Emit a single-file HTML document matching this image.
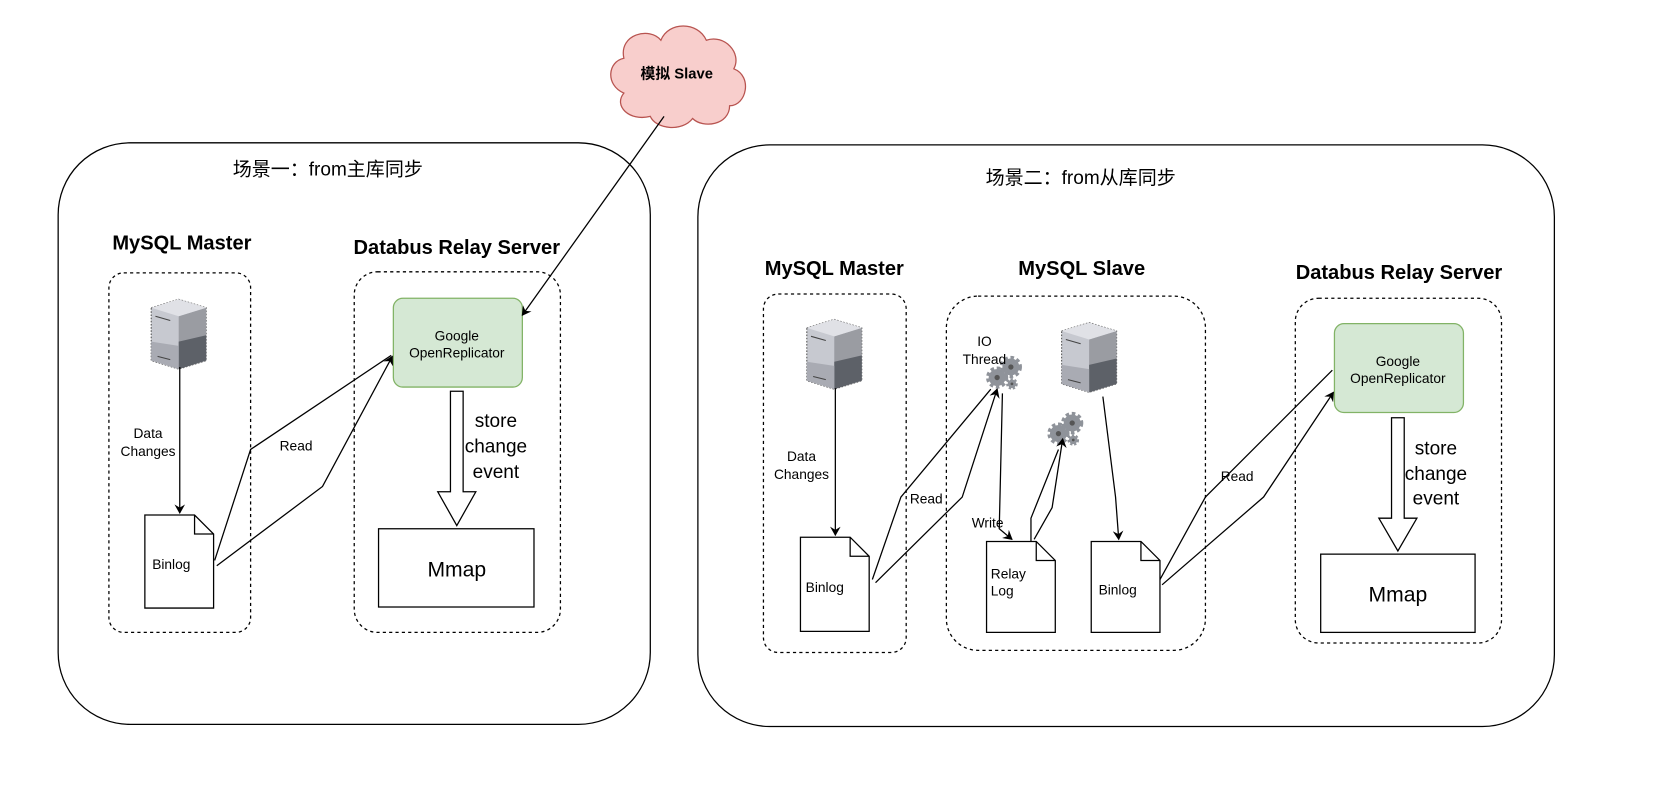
<!DOCTYPE html>
<html><head><meta charset="utf-8"><style>
html,body{margin:0;padding:0;background:#fff;width:1658px;height:790px;overflow:hidden}
text{font-family:"Liberation Sans","Noto Sans CJK SC",sans-serif;fill:#000}
</style></head><body>
<svg width="1658" height="790" viewBox="0 0 1568 747" xmlns="http://www.w3.org/2000/svg">
<defs>
<marker id="ar" markerWidth="10" markerHeight="10" refX="8" refY="5" orient="auto" markerUnits="userSpaceOnUse">
<path d="M0,0 L9,5 L0,10 L3,5 Z" fill="#000"/></marker>
<g id="srv">
<polygon points="0,8 26,0 52,8 52,58 26,66 0,58" fill="#c7c9d0" stroke="#555" stroke-dasharray="1.5,1.5"/>
<polygon points="26,16 52,8 52,58 26,66" fill="#9a9ca2"/>
<polygon points="26,40 52,34 52,58 26,66" fill="#5d6168"/>
<polygon points="0,8 26,0 52,8 26,16" fill="#e0e1e6"/>
<polygon points="0,40 26,44 26,66 0,58" fill="#a9abb3"/>
<line x1="4" y1="16" x2="18" y2="20" stroke="#444"/>
<line x1="6" y1="54" x2="18" y2="57" stroke="#444"/>
</g>
<g id="gear">
<circle cx="0" cy="0" r="8" fill="#8f939a" stroke="#8f939a" stroke-width="5" stroke-dasharray="3,2.3"/>
<circle cx="0" cy="0" r="2.5" fill="#555"/>
<g transform="translate(13,-10)"><circle r="8" fill="#8f939a" stroke="#8f939a" stroke-width="5" stroke-dasharray="3,2.3"/><circle r="2.5" fill="#555"/></g>
<g transform="translate(14,6)"><circle r="4" fill="#8f939a" stroke="#8f939a" stroke-width="3" stroke-dasharray="2,1.5"/><circle r="1.3" fill="#555"/></g>
</g>
</defs>
<g fill="none" stroke="#000" stroke-width="1.2">
<rect x="55" y="135" width="560" height="550" rx="68"/>
<rect x="660" y="137" width="810" height="550" rx="68"/>
<g stroke-dasharray="3,3">
<rect x="103" y="258" width="134" height="340" rx="14"/>
<rect x="335" y="257" width="195" height="341" rx="22"/>
<rect x="722" y="278" width="135" height="339" rx="14"/>
<rect x="895" y="280" width="245" height="335" rx="30"/>
<rect x="1225" y="282" width="195" height="326" rx="22"/>
</g>
</g>
<path d="M590,55 C585,32 615,25 625,38 C632,20 660,20 668,38 C685,32 702,50 694,65 C712,72 706,100 690,100 C690,118 665,122 655,112 C645,125 620,122 615,110 C595,115 580,100 590,88 C572,80 575,58 590,55 Z" fill="#f8cecc" stroke="#b85450" stroke-width="1.2"/>
<text x="640" y="74" font-size="14" font-weight="bold" text-anchor="middle">模拟 Slave</text>
<text x="310" y="166" font-size="18" text-anchor="middle">场景一：from主库同步</text>
<text x="1022" y="174" font-size="18" text-anchor="middle">场景二：from从库同步</text>
<g font-size="19" font-weight="bold" text-anchor="middle">
<text x="172" y="236">MySQL Master</text>
<text x="432" y="240">Databus Relay Server</text>
<text x="789" y="260">MySQL Master</text>
<text x="1023" y="260">MySQL Slave</text>
<text x="1323" y="264">Databus Relay Server</text>
</g>
<use href="#srv" x="143" y="283"/>
<use href="#srv" x="763" y="302"/>
<use href="#srv" x="1004" y="305"/>
<use href="#gear" x="943" y="357"/>
<use href="#gear" x="1001" y="410"/>
<g fill="#fff" stroke="#000" stroke-width="1.2">
<path d="M137,487 H184 L202,505 V575 H137 Z M184,487 V505 H202"/>
<path d="M757,508 H804 L822,526 V597 H757 Z M804,508 V526 H822"/>
<path d="M933,512 H980 L998,530 V598 H933 Z M980,512 V530 H998"/>
<path d="M1032,512 H1079 L1097,530 V598 H1032 Z M1079,512 V530 H1097"/>
<rect x="358" y="500" width="147" height="74"/>
<rect x="1249" y="524" width="146" height="74"/>
</g>
<rect x="372" y="282" width="122" height="84" rx="9" fill="#d5e8d4" stroke="#82b366" stroke-width="1.2"/>
<rect x="1262" y="306" width="122" height="84" rx="9" fill="#d5e8d4" stroke="#82b366" stroke-width="1.2"/>
<path d="M426,370 H438 V465 H450 L432,497 L414,465 H426 Z" fill="#fff" stroke="#000" stroke-width="1.2"/>
<path d="M1316,395 H1328 V490 H1340 L1322,521 L1304,490 H1316 Z" fill="#fff" stroke="#000" stroke-width="1.2"/>
<g fill="none" stroke="#000" stroke-width="1.2">
<line x1="170" y1="347" x2="170" y2="485" marker-end="url(#ar)"/>
<line x1="790" y1="367" x2="790" y2="506" marker-end="url(#ar)"/>
<line x1="628" y1="110" x2="494" y2="298" marker-end="url(#ar)"/>
<path d="M203,530 L237,425 L370,336"/>
<path d="M205,535 L305,460 L371,337" marker-end="url(#ar)"/>
<path d="M825,548 L852,470 L937,368"/>
<path d="M828,551 L910,470 L943,368" marker-end="url(#ar)"/>
<path d="M948,372 L945,500 L957,510" marker-end="url(#ar)"/>
<path d="M975,512 L975,490 L1001,425"/>
<path d="M978,510 L995,480 L1005,415" marker-end="url(#ar)"/>
<path d="M1043,375 L1055,470 L1058,510" marker-end="url(#ar)"/>
<path d="M1097,548 L1140,470 L1260,350"/>
<path d="M1099,553 L1195,470 L1261,371" marker-end="url(#ar)"/>
</g>
<g font-size="13" text-anchor="middle">
<text x="140" y="414">Data</text><text x="140" y="431">Changes</text>
<text x="280" y="426">Read</text>
<text x="432" y="322">Google</text><text x="432" y="338">OpenReplicator</text>
<text x="758" y="436">Data</text><text x="758" y="453">Changes</text>
<text x="876" y="476">Read</text>
<text x="931" y="327">IO</text><text x="931" y="344">Thread</text>
<text x="934" y="499">Write</text>
<text x="162" y="538">Binlog</text>
<text x="780" y="560">Binlog</text>
<text x="1057" y="562">Binlog</text>
<text x="1170" y="455">Read</text>
<text x="1322" y="346">Google</text><text x="1322" y="362">OpenReplicator</text>
</g>
<text x="937" y="547" font-size="13">Relay</text>
<text x="937" y="563" font-size="13">Log</text>
<g font-size="18" text-anchor="middle">
<text x="469" y="404">store</text><text x="469" y="428">change</text><text x="469" y="452">event</text>
<text x="1358" y="430">store</text><text x="1358" y="454">change</text><text x="1358" y="477">event</text>
</g>
<text x="432" y="545" font-size="20" text-anchor="middle">Mmap</text>
<text x="1322" y="569" font-size="20" text-anchor="middle">Mmap</text>
</svg>
</body></html>
